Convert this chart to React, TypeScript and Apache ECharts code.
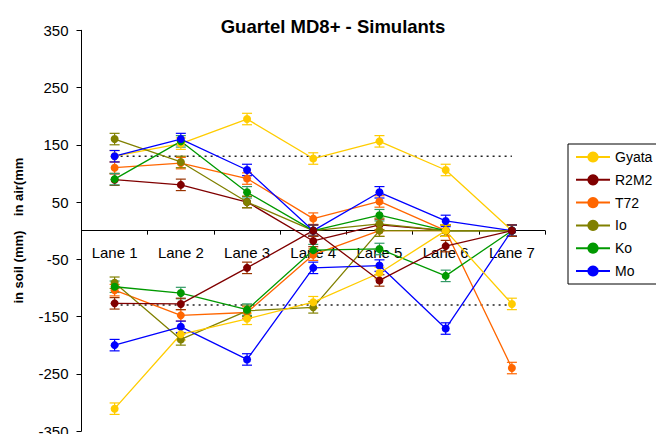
import React, { useEffect, useRef } from "react";
import * as echarts from "echarts";

const lanes = ["Lane 1", "Lane 2", "Lane 3", "Lane 4", "Lane 5", "Lane 6", "Lane 7"];
const names = ["Gyata", "R2M2", "T72", "Io", "Ko", "Mo"];
const colors = ["#FFCC00", "#800000", "#FF6600", "#808000", "#009900", "#0000FF"];
const errColors = ["#FFCC00", "#993300", "#FF6600", "#808000", "#339966", "#0000FF"];

// in air (mm)
const airGyata = [130, 152, 195, 126, 156, 106, 0];
const airR2M2 = [89, 80, 50, -18, 10, 0, 0];
const airT72 = [110, 118, 91, 21, 51, 0, 0];
const airIo = [160, 120, 50, 0, 12, 0, 0];
const airKo = [90, 156, 67, 0, 27, 0, 0];
const airMo = [130, 160, 106, 0, 67, 17, 0];

// in soil (mm)
const soilGyata = [-311, -181, -154, -125, -74, 0, -128];
const soilR2M2 = [-127, -128, -65, 0, -87, -27, 0];
const soilT72 = [-104, -148, -143, -42, 0, 0, -240];
const soilIo = [-91, -190, -140, -134, 0, 0, 0];
const soilKo = [-98, -109, -138, -34, -32, -79, 0];
const soilMo = [-200, -168, -225, -65, -61, -171, 0];

const errorMargin = 10;
const thresholdAir = [130, 130, 130, 130, 130, 130, 130];
const thresholdSoil = [-130, -130, -130, -130, -130, -130, -130];
const yTickValues = [-350, -250, -150, -50, 50, 150, 250, 350];

const FONT = "Arial, 'Liberation Sans', sans-serif";
const GRID_TOP = 30.3;
const GRID_BOTTOM = 3;

export default function App() {
  const ref = useRef<HTMLDivElement>(null);
  useEffect(() => {
    if (!ref.current) return;
    const chart = echarts.init(ref.current, null, { renderer: "svg" });

    const airSets = [airGyata, airR2M2, airT72, airIo, airKo, airMo];
    const soilSets = [soilGyata, soilR2M2, soilT72, soilIo, soilKo, soilMo];

    const lineSeries = (name: string, idx: number, data: number[]) => ({
      type: "line",
      name,
      data,
      symbol: "circle",
      symbolSize: 8,
      color: colors[idx],
      lineStyle: { width: 1.3, color: colors[idx] },
      itemStyle: { color: colors[idx] },
      z: 3,
    });
    const errSeries = (idx: number, data: number[]) => ({
      type: "custom",
      name: "err-" + names[idx],
      data: data.map((v, i) => [i, v - errorMargin, v + errorMargin]),
      encode: { x: 0, y: [1, 2] },
      z: 3,
      renderItem: (_p: any, api: any) => {
        const i = api.value(0);
        const a = api.coord([i, api.value(1)]);
        const b = api.coord([i, api.value(2)]);
        const hw = 5;
        const style = { stroke: errColors[idx], lineWidth: 1.2 };
        return {
          type: "group",
          children: [
            { type: "line", shape: { x1: a[0], y1: a[1], x2: b[0], y2: b[1] }, style },
            { type: "line", shape: { x1: a[0] - hw, y1: a[1], x2: a[0] + hw, y2: a[1] }, style },
            { type: "line", shape: { x1: b[0] - hw, y1: b[1], x2: b[0] + hw, y2: b[1] }, style },
          ],
        };
      },
    });

    const series: any[] = [
      {
        type: "line",
        name: "thr-air",
        data: thresholdAir,
        symbol: "none",
        lineStyle: { color: "#222", width: 1.4, type: [2, 4] },
        z: 2,
      },
      {
        type: "line",
        name: "thr-soil",
        data: thresholdSoil,
        symbol: "none",
        lineStyle: { color: "#222", width: 1.4, type: [2, 4] },
        z: 2,
      },
    ];
    airSets.forEach((d, i) => {
      series.push(lineSeries(names[i], i, d));
      series.push(errSeries(i, d));
    });
    const soilOrder = [2, 3, 4, 5, 0, 1];
    soilOrder.forEach((i) => {
      series.push(lineSeries(names[i], i, soilSets[i]));
      series.push(errSeries(i, soilSets[i]));
    });

    const gridHeight = 434 - GRID_TOP - GRID_BOTTOM;

    chart.setOption({
      animation: false,
      backgroundColor: "#ffffff",
      textStyle: { fontFamily: FONT },
      title: {
        text: "Guartel MD8+ - Simulants",
        left: 328,
        textAlign: "center",
        top: 12,
        textStyle: { fontSize: 18.5, fontWeight: "bold", color: "#000", fontFamily: FONT },
      },
      legend: {
        data: names,
        orient: "vertical",
        left: 568,
        top: 144,
        padding: [6, 40, 6, 7],
        itemWidth: 34,
        itemHeight: 14,
        itemGap: 8.8,
        borderColor: "#000",
        borderWidth: 1,
        backgroundColor: "#fff",
        textStyle: { fontSize: 14, color: "#000", fontFamily: FONT },
      },
      grid: {
        left: 81.5,
        right: 111,
        top: GRID_TOP,
        bottom: GRID_BOTTOM,
        containLabel: false,
        outerBoundsMode: "none",
      },
      xAxis: {
        type: "category",
        data: lanes,
        boundaryGap: true,
        position: "bottom",
        offset: -gridHeight / 2,
        axisLine: { onZero: false, lineStyle: { color: "#000", width: 1 } },
        axisTick: { show: true, length: 4, lineStyle: { color: "#000" } },
        axisLabel: { margin: 14, fontSize: 15, color: "#000", fontFamily: FONT },
        splitLine: { show: false },
      },
      yAxis: {
        type: "value",
        min: -350,
        max: 350,
        name: "in soil (mm)\u00a0\u00a0\u00a0\u00a0in air(mm",
        nameLocation: "middle",
        nameRotate: 90,
        nameGap: 57,
        nameTextStyle: { fontSize: 13, fontWeight: "bold", color: "#000", fontFamily: FONT },
        axisLine: { show: true, onZero: false, lineStyle: { color: "#000", width: 1 } },
        axisTick: { show: true, length: 5, customValues: yTickValues, lineStyle: { color: "#000" } },
        axisLabel: { margin: 13, fontSize: 15, color: "#000", customValues: yTickValues, fontFamily: FONT },
        splitLine: { show: false },
      },
      series,
    });
    return () => chart.dispose();
  }, []);
  return (
    <div
      ref={ref}
      style={{ position: "fixed", left: 0, top: 0, width: 656, height: 434, background: "#fff" }}
    />
  );
}
